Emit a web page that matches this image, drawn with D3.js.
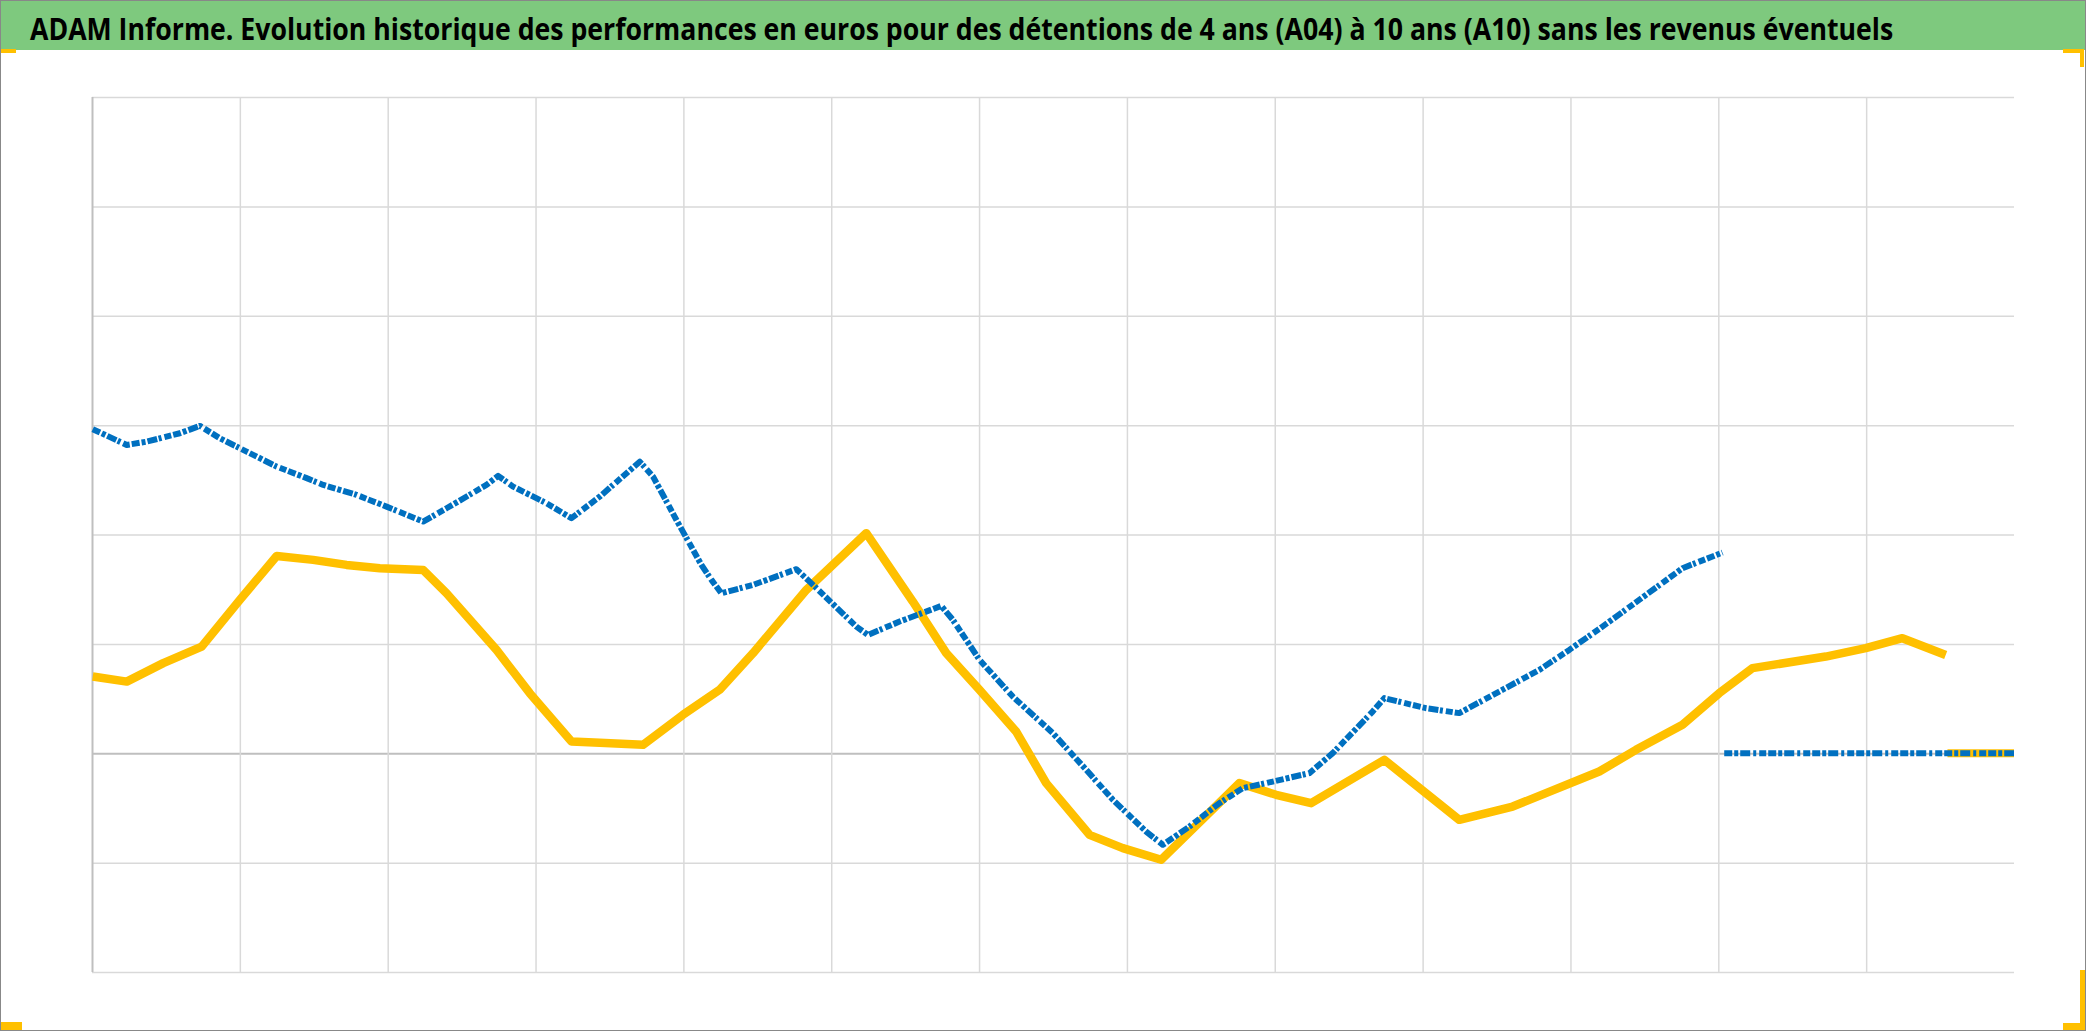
<!DOCTYPE html>
<html>
<head>
<meta charset="utf-8">
<script src="https://cdn.jsdelivr.net/npm/d3@7"></script>
<style>
  html, body { margin: 0; padding: 0; background: #ffffff; }
  svg { display: block; }
</style>
</head>
<body>
<svg id="chart" width="2086" height="1031"></svg>
<script>
// ---- Data (x = fractional year, y = performance %) ----
const titleText = "ADAM Informe. Evolution historique des performances en euros pour des détentions de 4 ans (A04) à 10 ans (A10) sans les revenus éventuels";

const xTicks = [2010, 2011, 2012, 2013, 2014, 2015, 2016, 2017, 2018, 2019, 2020, 2021, 2022];
const yTicks = [-20, -10, 0, 10, 20, 30, 40, 50, 60];

// Blue series (A04)
const blueSeries = [
  [2010.005, 29.63], [2010.235, 28.19], [2010.37, 28.49], [2010.594, 29.26], [2010.73, 29.93],
  [2010.865, 28.80], [2011.046, 27.58], [2011.249, 26.21], [2011.452, 25.15], [2011.564, 24.53],
  [2011.79, 23.62], [2011.992, 22.55], [2012.24, 21.18], [2012.398, 22.40], [2012.668, 24.53],
  [2012.747, 25.36], [2012.848, 24.38], [2013.074, 22.86], [2013.243, 21.49], [2013.434, 23.46],
  [2013.705, 26.66], [2013.795, 25.29], [2013.953, 21.33], [2014.122, 17.22], [2014.19, 15.85],
  [2014.257, 14.63], [2014.471, 15.39], [2014.764, 16.83], [2014.854, 15.69], [2015.17, 11.58],
  [2015.248, 10.82], [2015.462, 12.04], [2015.744, 13.47], [2015.823, 12.19], [2016.003, 8.54],
  [2016.228, 5.18], [2016.499, 1.84], [2016.725, -1.52], [2016.905, -4.26], [2017.13, -7.16],
  [2017.243, -8.37], [2017.423, -6.70], [2017.626, -4.56], [2017.784, -3.19], [2017.942, -2.73],
  [2018.234, -1.82], [2018.392, 0.01], [2018.662, 3.81], [2018.741, 5.04], [2019.023, 4.12],
  [2019.248, 3.67], [2019.518, 5.64], [2019.789, 7.62], [2019.992, 9.45], [2020.195, 11.37],
  [2020.465, 14.02], [2020.758, 16.92], [2021.028, 18.35]
];
const blueZero = [[2021.04, 0], [2023.0, 0]];

// Gold series (A10)
const goldSeries = [
  [2010.005, 7.01], [2010.235, 6.55], [2010.482, 8.24], [2010.742, 9.75], [2011.0, 14.02],
  [2011.249, 18.04], [2011.496, 17.68], [2011.722, 17.22], [2011.947, 16.92], [2012.24, 16.76],
  [2012.398, 14.63], [2012.736, 9.45], [2012.961, 5.49], [2013.243, 1.07], [2013.434, 0.95],
  [2013.727, 0.77], [2013.997, 3.51], [2014.245, 5.80], [2014.471, 9.15], [2014.832, 14.94],
  [2015.237, 20.12], [2015.552, 13.87], [2015.778, 9.15], [2016.003, 5.80], [2016.251, 1.98],
  [2016.454, -2.73], [2016.747, -7.46], [2016.972, -8.67], [2017.232, -9.74], [2017.761, -2.73],
  [2018.009, -3.80], [2018.246, -4.56], [2018.741, -0.60], [2019.248, -6.09], [2019.609, -4.87],
  [2019.834, -3.65], [2020.195, -1.67], [2020.443, 0.31], [2020.758, 2.60], [2021.006, 5.49],
  [2021.231, 7.78], [2021.727, 8.84], [2021.997, 9.61], [2022.245, 10.52], [2022.538, 8.99]
];
const goldZero = [[2022.55, 0], [2023.0, 0]];

// ---- Layout ----
const W = 2086, H = 1031;
const plot = { left: 92, right: 2014, top: 97, bottom: 972 };

const svg = d3.select("#chart");

const x = d3.scaleLinear().domain([2010, 2023]).range([plot.left, plot.right]);
const y = d3.scaleLinear().domain([-20, 60]).range([plot.bottom, plot.top]);

// Background
svg.append("rect").attr("x", 0).attr("y", 0).attr("width", W).attr("height", H).attr("fill", "#ffffff");

// Title band
svg.append("rect").attr("x", 0).attr("y", 0).attr("width", W).attr("height", 50).attr("fill", "#7ec97e");
const titleX = 30, titleW = 1864;
const title = svg.append("text")
  .attr("x", 0).attr("y", 0)
  .attr("font-family", "'Open Sans', 'Liberation Sans', sans-serif")
  .attr("font-weight", "bold")
  .attr("font-size", 31)
  .attr("fill", "#000000")
  .text(titleText);
const natural = title.node().getComputedTextLength();
title.attr("transform", `translate(${titleX},40) scale(${titleW / natural},1)`);

// Horizontal gridlines (y axis without labels)
const yAxis = d3.axisLeft(y).tickValues(yTicks).tickSize(-(plot.right - plot.left)).tickFormat("");
const gy = svg.append("g").attr("transform", `translate(${plot.left},0)`).call(yAxis);
gy.select(".domain").remove();
gy.selectAll(".tick line")
  .attr("stroke", d => d === 0 ? "#bfbfbf" : "#d9d9d9")
  .attr("stroke-width", d => d === 0 ? 2 : 1.5);

// Vertical gridlines (x axis without labels)
const xAxis = d3.axisBottom(x).tickValues(xTicks).tickSize(-(plot.bottom - plot.top)).tickFormat("");
const gx = svg.append("g").attr("transform", `translate(0,${plot.bottom})`).call(xAxis);
gx.select(".domain").remove();
gx.selectAll(".tick line")
  .attr("stroke", d => d === 2010 ? "#bfbfbf" : "#d9d9d9")
  .attr("stroke-width", d => d === 2010 ? 2 : 1.5);

// Line generator
const line = d3.line().x(d => x(d[0])).y(d => y(d[1]));

// Gold series (drawn first)
svg.append("path").datum(goldSeries).attr("d", line)
  .attr("fill", "none").attr("stroke", "#ffc000").attr("stroke-width", 8.5)
  .attr("stroke-linejoin", "round");
svg.append("path").datum(goldZero).attr("d", line)
  .attr("fill", "none").attr("stroke", "#ffc000").attr("stroke-width", 8);

// Blue series (dense markers, emulated with dashes)
svg.append("path").datum(blueSeries).attr("d", line)
  .attr("fill", "none").attr("stroke", "#0070c0").attr("stroke-width", 6)
  .attr("stroke-dasharray", "8 2 4 2 10 1.5 3 3 7 2")
  .attr("stroke-linejoin", "round");
svg.append("path").datum(blueZero).attr("d", line)
  .attr("fill", "none").attr("stroke", "#0070c0").attr("stroke-width", 6)
  .attr("stroke-dasharray", "8 2 4 2 10 3 3 3 7 2");

// Orange selection corners
const corners = [
  [0, 49, 16, 4],
  [2063, 49, 21, 4], [2080, 49, 4, 18],
  [0, 1022, 22, 8],
  [2063, 1023, 22, 7], [2080, 970, 5, 60]
];
svg.selectAll("rect.corner").data(corners).enter().append("rect")
  .attr("class", "corner")
  .attr("x", d => d[0]).attr("y", d => d[1]).attr("width", d => d[2]).attr("height", d => d[3])
  .attr("fill", "#ffc000");

// Outer border
svg.append("rect").attr("x", 0.5).attr("y", 0.5).attr("width", W - 1).attr("height", H - 1)
  .attr("fill", "none").attr("stroke", "#888888").attr("stroke-width", 1);
</script>
</body>
</html>
